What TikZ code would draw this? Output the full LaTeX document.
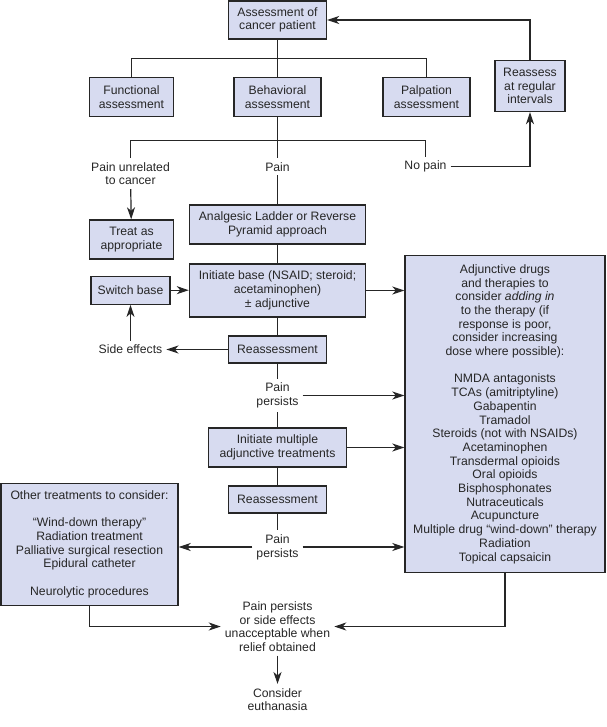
\documentclass[tikz,border=0pt]{standalone}
\usepackage{fontspec}
\setmainfont{Liberation Sans}
\usetikzlibrary{arrows.meta}
\definecolor{boxfill}{RGB}{215,219,240}
\definecolor{ink}{RGB}{38,38,38}
\tikzstyle{Box} = [draw=ink, fill=boxfill, line width=1.4pt, rectangle, inner sep=0pt, align=center]
\tikzstyle{Note} = [inner sep=4pt, align=center]
\tikzstyle{Link} = [draw=ink, line width=1.2pt]

\begin{document}
\begin{tikzpicture}[x=1pt, y=-1pt, text=ink, font=\fontsize{12.2}{13.7}\selectfont,
    >={Stealth[length=12pt,width=8pt,inset=3.5pt]}]
    \useasboundingbox (0,0) rectangle (606,727);
    \node[Box, minimum width=98,  minimum height=38]  (assess)      at (277.5,20)    {Assessment of\\cancer patient};
    \node[Box, minimum width=84,  minimum height=39]  (f_assess)    at (131.5,97)    {Functional\\assessment};
    \node[Box, minimum width=87,  minimum height=39]  (b_assess)    at (277.5,97)    {Behavioral\\assessment};
    \node[Box, minimum width=87,  minimum height=39]  (p_assess)    at (426.5,97)    {Palpation\\assessment};
    \node[Box, minimum width=70,  minimum height=51]  (reassess)    at (530,86)      {Reassess\\at regular\\intervals};
    \node[Note]                                       (o_unrelated) at (130.5,173.7) {Pain unrelated\\to cancer};
    \node[Note]                                       (o_pain)      at (277.5,166.7) {Pain};
    \node[Note]                                       (o_nopain)    at (425.5,166.7) {No pain};
    \node[Box, minimum width=84,  minimum height=39]  (treat)       at (131.5,239.5) {Treat as\\appropriate};
    \node[Box, minimum width=176, minimum height=39]  (ladder)      at (277.5,224.5) {Analgesic Ladder or Reverse\\Pyramid approach};
    \node[Box, minimum width=176, minimum height=53]  (init_base)   at (277.5,290.5) {Initiate base (NSAID; steroid;\\acetaminophen)\\± adjunctive};
    \node[Box, minimum width=79,  minimum height=28]  (switch)      at (130.5,290.2) {Switch base};
    \node[Box, minimum width=98,  minimum height=27]  (reass_a)     at (277.5,349.5) {Reassessment};
    \node[Note]                                       (o_side)      at (130.5,349.5) {Side effects};
    \node[Note]                                       (o_persist_a) at (277.5,395.5) {Pain\\persists};
    \node[Box, minimum width=138, minimum height=39]  (init_multi)  at (277.5,447.5) {Initiate multiple\\adjunctive treatments};
    \node[Box, minimum width=98,  minimum height=27]  (reass_b)     at (277.5,499.5) {Reassessment};
    \node[Note]                                       (o_persist_b) at (277.5,547)   {Pain\\persists};
    \node[Box, minimum width=177, minimum height=122] (other)       at (89.5,544.2)  {Other treatments to consider:\\[13.7pt]
        “Wind-down therapy”\\Radiation treatment\\Palliative surgical resection\\Epidural catheter\\[13.7pt]
        Neurolytic procedures};
    \node[Box, minimum width=200, minimum height=317] (adjunct)     at (505,414)     {Adjunctive drugs\\and therapies to\\consider \textit{adding in}\\to the therapy (if\\response is poor,\\consider increasing\\dose where possible):\\[13.7pt]
        NMDA antagonists\\TCAs (amitriptyline)\\Gabapentin\\Tramadol\\Steroids (not with NSAIDs)\\Acetaminophen\\Transdermal opioids\\Oral opioids\\Bisphosphonates\\Nutraceuticals\\Acupuncture\\Multiple drug “wind-down” therapy\\Radiation\\Topical capsaicin};
    \node[Note]                                       (o_final)     at (277.5,626.5) {Pain persists\\or side effects\\unacceptable when\\relief obtained};
    \node[Note]                                       (o_euth)      at (277.5,699.5) {Consider\\euthanasia};
    \coordinate (bar_top) at (277.5,58.5);
    \coordinate (bar_mid) at (277.5,140.5);
    \draw[Link]    (assess) -- (b_assess);
    \draw[Link]    (f_assess.north) |- (bar_top) -| (p_assess.north);
    \draw[Link]    (b_assess) -- (bar_mid);
    \draw[Link]    (o_unrelated.north) |- (bar_mid) -| (o_nopain.north);
    \draw[Link]    (bar_mid) -- (o_pain);
    \draw[Link,->] (reassess.north) |- (assess.east);
    \draw[Link,->] (o_nopain.east) -| (reassess.south);
    \draw[Link,->] (o_unrelated) -- (treat);
    \draw[Link]    (o_pain) -- (ladder);
    \draw[Link]    (ladder) -- (init_base);
    \draw[Link,->] (switch.east) -- (switch.east -| init_base.west);
    \draw[Link,->] (init_base.east) -- (init_base.east -| adjunct.west);
    \draw[Link]    (init_base) -- (reass_a);
    \draw[Link,->] (reass_a) -- (o_side);
    \draw[Link,->] (o_side) -- (switch);
    \draw[Link]    (reass_a) -- (o_persist_a);
    \draw[Link,->] (o_persist_a.east) -- (o_persist_a.east -| adjunct.west);
    \draw[Link]    (o_persist_a) -- (init_multi);
    \draw[Link,->] (init_multi.east) -- (init_multi.east -| adjunct.west);
    \draw[Link]    (init_multi) -- (reass_b);
    \draw[Link]    (reass_b) -- (o_persist_b);
    \draw[Link,->] (o_persist_b.east) -- (o_persist_b.east -| adjunct.west);
    \draw[Link,->] (o_persist_b.west) -- (o_persist_b.west -| other.east);
    \draw[Link,->] (other.south) |- (o_final.west);
    \draw[Link,->] (adjunct.south) |- (o_final.east);
    \draw[Link,->] (o_final) -- (o_euth);
\end{tikzpicture}
\end{document}
